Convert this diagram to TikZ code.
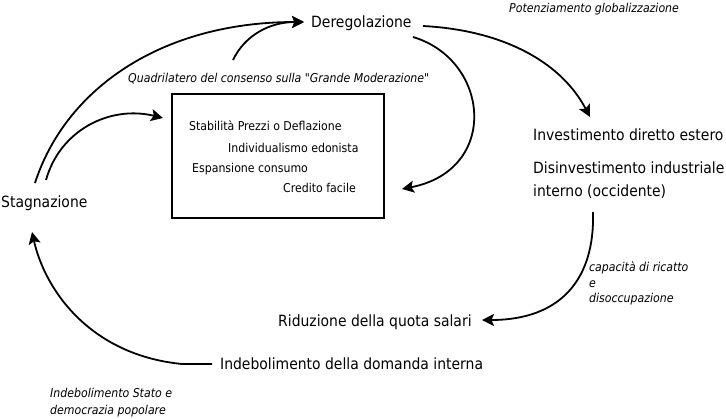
\documentclass[tikz,border=0pt]{standalone}
\usepackage{fontspec}
\setmainfont{DejaVu Sans Condensed}[Ligatures=TeXOff]
\usetikzlibrary{arrows.meta}
\begin{document}
\begin{tikzpicture}[x=1pt,y=-1pt,
  lbl/.style={anchor=base west,inner sep=0pt,font=\fontsize{15.5}{18}\selectfont},
  sml/.style={anchor=base west,inner sep=0pt,font=\fontsize{12.2}{15}\selectfont},
  note/.style={anchor=base west,inner sep=0pt,font=\fontsize{12.2}{15}\selectfont\itshape},
  conn/.style={line width=1.8pt,-{Stealth[length=12pt,width=12pt,inset=2.5pt]}},
  quad/.style={draw,line width=1.8pt}]
\useasboundingbox (0,0) rectangle (726,418);
% nodes
\node[lbl] (stag) at (1,207) {Stagnazione};
\node[lbl] (dereg) at (311,27) {Deregolazione};
\node[lbl] (invest) at (533,140) {Investimento diretto estero};
\node[lbl] (disinv) at (533,173) {Disinvestimento industriale};
\node[lbl] (disinv2) at (533,196) {interno (occidente)};
\node[lbl] (ridu) at (278,326) {Riduzione della quota salari};
\node[lbl] (indeb) at (220,369) {Indebolimento della domanda interna};
\node[note] (potenz) at (509,12) {Potenziamento globalizzazione};
\node[note] (quadri) at (128,82) {Quadrilatero del consenso sulla "Grande Moderazione"};
\node[quad,minimum width=212pt,minimum height=124pt,anchor=north west,inner sep=0pt] (box) at (171,93) {};
\node[sml] (t1) at (189,130) {Stabilità Prezzi o Deflazione};
\node[sml] (t2) at (228,152) {Individualismo edonista};
\node[sml] (t3) at (192,172) {Espansione consumo};
\node[sml] (t4) at (283,192) {Credito facile};
\node[note] (cap1) at (589,271) {capacità di ricatto};
\node[note] (cap2) at (589,287) {e};
\node[note] (cap3) at (589,302) {disoccupazione};
\node[note] (st1) at (50,397) {Indebolimento Stato e};
\node[note] (st2) at (50,414) {democrazia popolare};
% connector end points
\coordinate (stagA) at (35,183);
\coordinate (stagB) at (46,180);
\coordinate (stagIn) at (32,232);
\coordinate (deregIn) at (304,22);
\coordinate (quadOut) at (233,60);
\coordinate (deregOutA) at (413,37);
\coordinate (deregOutB) at (423,26);
\coordinate (boxIn) at (163,118);
\coordinate (boxIn2) at (402,189);
\coordinate (investIn) at (590,117);
\coordinate (disinvOut) at (593,212);
\coordinate (riduIn) at (482,320);
\coordinate (indebOut) at (212,364);
\coordinate (indebBend) at (182,364);
% connectors
\draw[conn] (stagA) .. controls (65,90) and (160,22) .. (deregIn);
\draw[conn] (stagB) .. controls (60,130) and (110,105) .. (boxIn);
\draw[conn] (quadOut) .. controls (245,35) and (270,22) .. (deregIn);
\draw[conn] (deregOutA) .. controls (490,60) and (500,170) .. (boxIn2);
\draw[conn] (deregOutB) .. controls (500,30) and (560,60) .. (investIn);
\draw[conn] (disinvOut) .. controls (595,280) and (560,320) .. (riduIn);
\draw[conn] (indebOut) -- (indebBend) .. controls (90,355) and (45,290) .. (stagIn);
\end{tikzpicture}
\end{document}
